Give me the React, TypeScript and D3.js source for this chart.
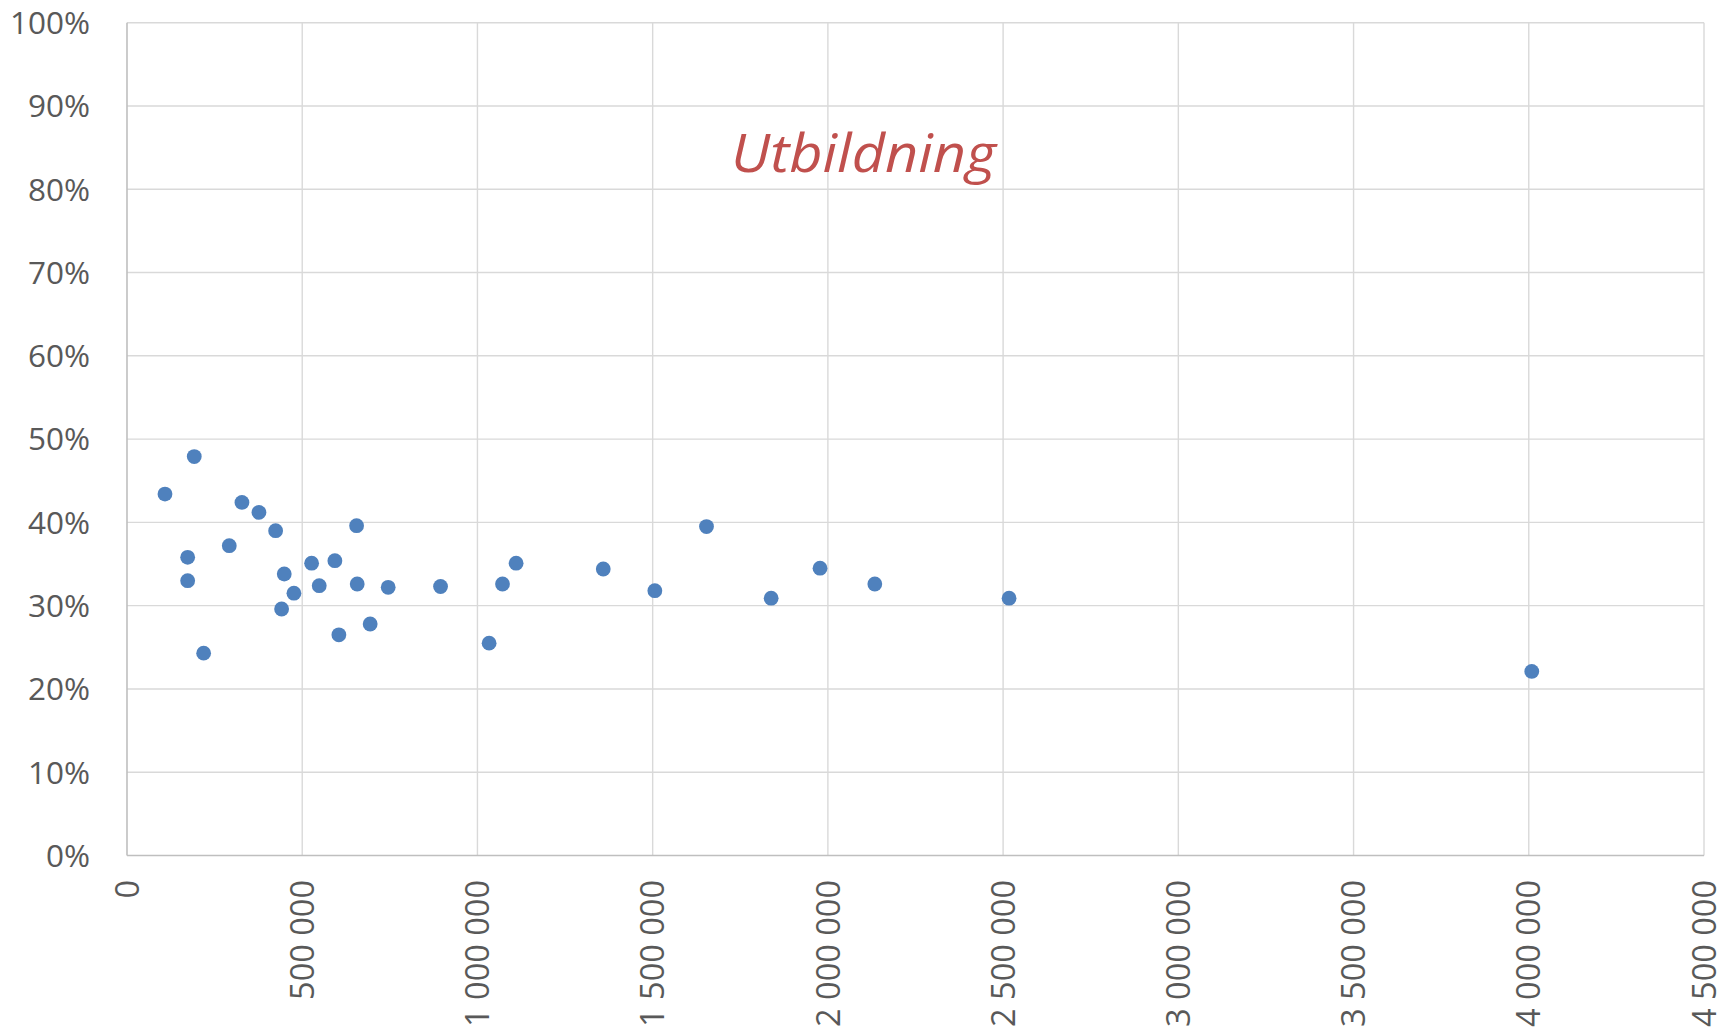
import React, { useEffect, useRef } from "react";
import * as d3 from "d3";

// inhabitants (x) and share with education (y)
const population = [
  108400, 191900, 173100, 173100, 218700, 291800, 328000, 376500, 424100,
  448700, 441200, 476300, 526800, 548500, 593200, 604600, 655100, 656900,
  693900, 745300, 894700, 1033300, 1071500, 1110300, 1359000, 1506200,
  1653600, 1838100, 1977600, 2133900, 2517000, 4008500,
];
const share = [
  0.434, 0.479, 0.358, 0.33, 0.243, 0.372, 0.424, 0.412, 0.39, 0.338, 0.296,
  0.315, 0.351, 0.324, 0.354, 0.265, 0.396, 0.326, 0.278, 0.322, 0.323,
  0.255, 0.326, 0.351, 0.344, 0.318, 0.395, 0.309, 0.345, 0.326, 0.309,
  0.221,
];
const xTicks = [0, 500000, 1000000, 1500000, 2000000, 2500000, 3000000, 3500000, 4000000, 4500000];
const yTicks = [0, 0.1, 0.2, 0.3, 0.4, 0.5, 0.6, 0.7, 0.8, 0.9, 1];
const title = "Utbildning";

const App = () => {
  const svgRef = useRef<SVGSVGElement>(null);

  useEffect(() => {
    const w = 1735;
    const h = 1031;
    // whole chart nudged 2px down so the top label is not clipped
    const m = { left: 127, right: 1704, top: 22.7, bottom: 855.5 };
    const font = "'Open Sans', sans-serif";

    const svg = d3.select(svgRef.current).attr("width", w).attr("height", h);
    svg.selectAll("*").remove();

    const x = d3.scaleLinear().domain([0, 4500000]).range([m.left, m.right]);
    const y = d3.scaleLinear().domain([0, 1]).range([m.bottom, m.top]);

    const loc = d3.formatLocale({ decimal: ",", thousands: "\u00a0", grouping: [3], currency: ["", " kr"] });
    const fx = loc.format(",d");
    const fy = d3.format(".0%");

    // gridlines
    svg
      .append("g")
      .selectAll("line")
      .data(yTicks.slice(1))
      .join("line")
      .attr("x1", m.left)
      .attr("x2", m.right)
      .attr("y1", (d) => y(d))
      .attr("y2", (d) => y(d))
      .attr("stroke", "#d9d9d9")
      .attr("stroke-width", 1.4);
    svg
      .append("g")
      .selectAll("line")
      .data(xTicks.slice(1))
      .join("line")
      .attr("x1", (d) => x(d))
      .attr("x2", (d) => x(d))
      .attr("y1", m.top)
      .attr("y2", m.bottom)
      .attr("stroke", "#d9d9d9")
      .attr("stroke-width", 1.4);

    // axis lines
    svg
      .append("line")
      .attr("x1", m.left)
      .attr("x2", m.left)
      .attr("y1", m.top)
      .attr("y2", m.bottom)
      .attr("stroke", "#bfbfbf")
      .attr("stroke-width", 1.6);
    svg
      .append("line")
      .attr("x1", m.left)
      .attr("x2", m.right)
      .attr("y1", m.bottom)
      .attr("y2", m.bottom)
      .attr("stroke", "#bfbfbf")
      .attr("stroke-width", 1.6);

    // y labels
    svg
      .append("g")
      .selectAll("text")
      .data(yTicks)
      .join("text")
      .attr("x", 90)
      .attr("y", (d) => y(d))
      .attr("dy", "0.36em")
      .attr("text-anchor", "end")
      .attr("font-family", font)
      .attr("font-size", 31.5)
      .attr("fill", "#595959")
      .text((d) => fy(d));

    // x labels (rotated)
    svg
      .append("g")
      .selectAll("text")
      .data(xTicks)
      .join("text")
      .attr("transform", (d) => `translate(${x(d)},${m.bottom + 24.5}) rotate(-90)`)
      .attr("dy", "0.36em")
      .attr("text-anchor", "end")
      .attr("font-family", font)
      .attr("font-size", 32.5)
      .attr("fill", "#595959")
      .text((d) => fx(d));

    // points
    svg
      .append("g")
      .selectAll("circle")
      .data(population.map((p, i) => [p, share[i]]))
      .join("circle")
      .attr("cx", (d) => x(d[0]))
      .attr("cy", (d) => y(d[1]))
      .attr("r", 7.4)
      .attr("fill", "#4f81bd");

    // title
    svg
      .append("text")
      .attr("x", 731)
      .attr("y", 172)
      .attr("font-family", font)
      .attr("font-style", "italic")
      .attr("font-size", 53)
      .attr("fill", "#c0504d")
      .attr("textLength", 265)
      .attr("lengthAdjust", "spacingAndGlyphs")
      .text(title);
  }, []);

  return (
    <div style={{ position: "absolute", left: 0, top: 0 }}>
      <svg ref={svgRef} style={{ display: "block", background: "#fff" }}></svg>
    </div>
  );
};

export default App;
